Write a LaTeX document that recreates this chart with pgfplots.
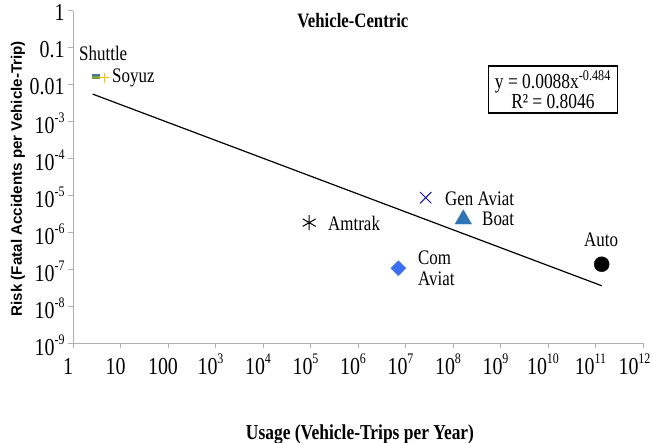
\documentclass[border=0pt]{standalone}
\usepackage{fontspec}
\setmainfont{Liberation Serif}
\setsansfont{Liberation Sans}
\usepackage{graphicx}
\usepackage{pgfplots}
\pgfplotsset{compat=1.18}
\definecolor{axgray}{RGB}{175,175,175}
\definecolor{shgreen}{RGB}{120,160,60}
\definecolor{shblue}{RGB}{70,115,170}
\definecolor{soyuz}{RGB}{255,192,0}
\definecolor{genav}{RGB}{20,20,180}
\definecolor{boat}{RGB}{46,117,182}
\definecolor{comav}{RGB}{60,110,240}
\pgfdeclareplotmark{shuttle}{%
  \pgfsetfillcolor{shgreen}%
  \pgfpathrectangle{\pgfpoint{-4bp}{-2.3bp}}{\pgfpoint{8bp}{2.3bp}}\pgfusepath{fill}%
  \pgfsetfillcolor{shblue}%
  \pgfpathrectangle{\pgfpoint{-4bp}{0bp}}{\pgfpoint{8bp}{2.0bp}}\pgfusepath{fill}}
\newcommand\vs[1]{\scalebox{1}[1.22]{#1}}
\newcommand\tk[1]{\vs{10\raisebox{0.45em}{\fontsize{12}{12}\selectfont #1}}}
\newcommand\lbl{\fontsize{17}{20}\selectfont}
\begin{document}
\begin{tikzpicture}
\path[use as bounding box] (0,0) rectangle (652bp,443bp);
\begin{axis}[
  at={(73bp,99.7bp)}, anchor=south west,
  scale only axis, width=570bp, height=332.6bp,
  xmode=log, ymode=log,
  xmin=1, xmax=1e12, ymin=1e-9, ymax=1,
  axis lines*=left,
  axis line style={axgray, line width=1bp},
  tick style={axgray, line width=0.8bp},
  tick align=outside, major tick length=5bp,
  xminorticks=false, yminorticks=false,
  xtick={1,10,100,1e3,1e4,1e5,1e6,1e7,1e8,1e9,1e10,1e11,1e12},
  xticklabels={\vs{1},\vs{10},\vs{100},\tk{3},\tk{4},\tk{5},\tk{6},\tk{7},\tk{8},\tk{9},\tk{10},\tk{11},\hspace*{-7bp}\tk{12}},
  ytick={1e-9,1e-8,1e-7,1e-6,1e-5,1e-4,1e-3,1e-2,1e-1,1},
  yticklabels={\tk{-9},\tk{-8},\tk{-7},\tk{-6},\tk{-5},\tk{-4},\tk{-3},\vs{0.01},\vs{0.1},\vs{1}},
  ticklabel style={font=\fontsize{20}{22}\selectfont, text=black},
  xticklabel style={anchor=base, xshift=-5bp, yshift=-26bp},
  yticklabel style={yshift=-2bp},
  title={\vs{Vehicle-Centric}},
  title style={at={(axis description cs:0.491,0.932)}, anchor=base, font=\bfseries\fontsize{16.8}{19}\selectfont},
  xlabel={\vs{Usage (Vehicle-Trips per Year)}},
  xlabel style={at={(axis description cs:0.5035,-0.273)}, anchor=center, font=\bfseries\fontsize{17.5}{20}\selectfont},
  ylabel={Risk (Fatal Accidents per Vehicle-Trip)},
  ylabel style={at={(axis description cs:-0.0965,0.495)}, anchor=center, rotate=0, font=\sffamily\bfseries\fontsize{15.2}{18}\selectfont},
  clip=false,
]
% trendline y = 0.0088 x^-0.484 (endpoints)
\addplot[black, line width=1.2bp] coordinates {(2.6,0.00554) (1.35e11,3.61e-8)};
% data
\addplot[only marks, mark=shuttle] coordinates {(3.0,0.0166)};
\addplot[only marks, mark=+, mark size=5bp, draw=soyuz, line width=1.1bp] coordinates {(4.6,0.0155)};
\addplot[only marks, mark=asterisk, mark size=7.5bp, draw=black, line width=1bp] coordinates {(9.4e4,1.84e-6)};
\addplot[only marks, mark=x, mark size=8bp, draw=genav, line width=1bp] coordinates {(2.66e7,8.7e-6)};
\addplot[only marks, mark=triangle*, mark size=9.5bp, draw=boat, fill=boat] coordinates {(1.65e8,2.27e-6)};
\addplot[only marks, mark=square*, mark size=5.3bp, mark options={rotate=45}, draw=comav, fill=comav] coordinates {(7.07e6,1.07e-7)};
\addplot[only marks, mark=*, mark size=7.5bp, draw=black, fill=black] coordinates {(1.35e11,1.38e-7)};
% labels
\node[anchor=west, inner sep=0pt, font=\lbl] at (axis cs:1.34,0.0718) {\vs{Shuttle}};
\node[anchor=west, inner sep=0pt, font=\lbl] at (axis cs:6.62,0.0151) {\vs{Soyuz}};
\node[anchor=west, inner sep=0pt, font=\lbl] at (axis cs:2.34e5,1.80e-6) {\vs{Amtrak}};
\node[anchor=west, inner sep=0pt, font=\lbl] at (axis cs:6.79e7,8.04e-6) {\vs{Gen Aviat}};
\node[anchor=west, inner sep=0pt, font=\lbl] at (axis cs:4.08e8,2.31e-6) {\vs{Boat}};
\node[anchor=west, inner sep=0pt, align=left, font=\lbl] at (axis cs:1.83e7,1.1e-7) {\vs{Com}\\[1bp]\vs{Aviat}};
\node[anchor=center, inner sep=0pt, font=\lbl] at (axis cs:1.31e11,6.25e-7) {\vs{Auto}};
\node[draw=black, line width=1.2bp, fill=white, align=center, inner sep=3bp, minimum width=129bp, minimum height=47bp, font=\fontsize{17.5}{20}\selectfont] at (axis cs:1.27e10,7.38e-3) {\vs{y = 0.0088x\textsuperscript{-0.484}}\\\vs{R² = 0.8046}};
\end{axis}
\end{tikzpicture}
\end{document}
